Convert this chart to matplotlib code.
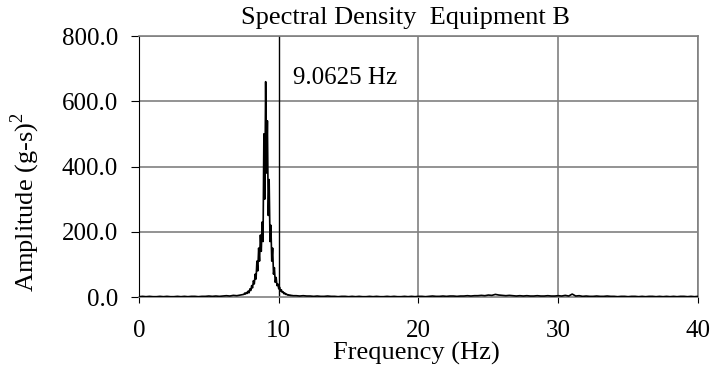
import numpy as np
import matplotlib
matplotlib.use("Agg")
import matplotlib.pyplot as plt

plt.rcParams['font.family'] = ['Liberation Serif', 'DejaVu Serif']
plt.rcParams['mathtext.fontset'] = 'custom'
plt.rcParams['mathtext.rm'] = 'Liberation Serif'

# Datos
freq_low = np.arange(0.0, 7.5, 0.25)
amp_low = [1, 2, 1, 2, 1, 1, 2, 1, 2, 1, 1, 2, 1, 2, 1, 2,
           2, 1, 2, 2, 3, 2, 3, 2, 3, 4, 3, 5, 4, 6]

freq_peak = np.arange(7.5, 11.0001, 0.0625)
amp_peak = [8, 12, 9, 14, 11, 18, 13, 25, 20, 35, 28, 50, 40, 70, 55, 110,
            80, 150, 110, 190, 140, 230, 170, 500, 300, 660, 380, 540, 250, 360,
            170, 220, 110, 150, 70, 90, 45, 60, 35, 40, 25, 30, 18, 22, 14, 16,
            10, 12, 8, 9, 6, 7, 5, 6, 4, 5, 4]

freq_high = np.arange(11.25, 40.0001, 0.25)
amp_high = [4, 3, 4, 3, 3, 2, 3, 2, 2, 3, 2, 2, 1, 2, 2, 1,
            2, 1, 2, 1, 1, 2, 1, 2, 1, 1, 2, 1, 2, 1, 1, 2,
            1, 2, 1, 2, 2, 1, 2, 3, 2, 2, 3, 2, 3, 3, 2, 3,
            3, 4, 3, 4, 4, 5, 4, 6, 5, 8, 6, 5, 4, 5, 4, 3,
            4, 3, 4, 3, 3, 4, 3, 3, 4, 3, 3, 4, 3, 5, 3, 9,
            3, 4, 2, 3, 2, 2, 3, 2, 2, 3, 2, 2, 1, 2, 2, 1,
            2, 2, 1, 2, 1, 2, 2, 1, 2, 1, 2, 1, 2, 1, 2, 2,
            1, 2, 1, 2]

freq = np.concatenate([freq_low, freq_peak, freq_high])
amp = np.concatenate([amp_low, amp_peak, amp_high])

xticks = [0, 10, 20, 30, 40]
yticks = [0, 200, 400, 600, 800]

fig = plt.figure(figsize=(7.11, 3.69), dpi=100)
ax = fig.add_axes([0.1955, 0.1951, 0.7862, 0.7073])

ax.plot(freq, amp, color='black', lw=1.2, zorder=3)

# Rejilla
for y in yticks[1:]:
    ax.axhline(y, color='#808080', lw=1.2, zorder=1)
for x in xticks[2:]:
    ax.axvline(x, color='#808080', lw=1.2, zorder=1)
ax.axvline(10, color='black', lw=1.0, zorder=2)

ax.set_xlim(0, 40)
ax.set_ylim(0, 800)
ax.set_xticks(xticks)
ax.set_yticks(yticks)
ax.set_yticklabels([f"{v:.1f}" for v in yticks])

for s in ['top', 'right', 'bottom']:
    ax.spines[s].set_color('#808080')
    ax.spines[s].set_linewidth(1.2)
ax.spines['left'].set_color('black')

ax.tick_params(axis='x', direction='out', length=4.5, pad=12, labelsize=18,
               color='black')
ax.tick_params(axis='y', direction='out', length=6, pad=9, labelsize=18,
               color='black')

ax.text(11.0, 670, '9.0625 Hz', fontsize=18, va='center', ha='left')

# Diseño
fig.text(0.570, 0.951, 'Spectral Density  Equipment B', fontsize=19,
         ha='center', va='center')
fig.text(0.585, 0.042, 'Frequency (Hz)', fontsize=19, ha='center', va='center')
fig.text(0.035, 0.453, 'Amplitude (g-s)$^2$', fontsize=19, ha='center',
         va='center', rotation=90)

fig.savefig('out.png', dpi=100)
